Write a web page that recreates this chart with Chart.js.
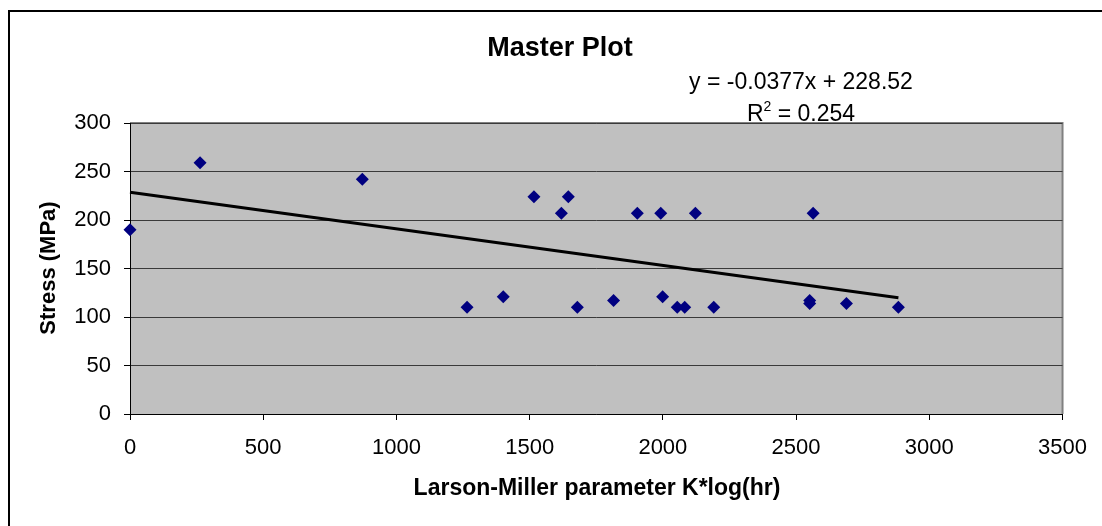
<!DOCTYPE html>
<html>
<head>
<meta charset="utf-8">
<script src="https://cdn.jsdelivr.net/npm/chart.js@4.4.1/dist/chart.umd.min.js"></script>
<style>
  html, body { margin: 0; padding: 0; background: #fff; }
  canvas { display: block; }
</style>
</head>
<body>
<canvas id="c" width="1102" height="526"></canvas>
<script>
// Larson-Miller parameter (x) vs stress in MPa (y)
const lmParam = [0, 263, 872, 1265, 1401, 1516, 1619, 1645, 1679, 1815, 1904, 1992, 1999, 2054, 2082, 2122, 2191, 2551, 2551, 2564, 2689, 2884];
const stress  = [190, 259, 242, 110, 121, 224, 207, 224, 110, 117, 207, 207, 121, 110, 110, 207, 110, 117, 114, 207, 114, 110];

// linear trendline as printed on the chart
const slope = -0.0377;
const intercept = 228.52;
const rSquared = 0.254;

const xTicks = [0, 500, 1000, 1500, 2000, 2500, 3000, 3500];
const yTicks = [0, 50, 100, 150, 200, 250, 300];

const points = lmParam.map((x, i) => ({ x: x, y: stress[i] }));
const xMax = Math.max(...lmParam);
const trend = [
  { x: 0, y: intercept },
  { x: xMax, y: slope * xMax + intercept }
];

const FONT = '"Liberation Sans", Arial, sans-serif';

// grey plot background, chart frame and the text blocks
const decor = {
  id: 'decor',
  beforeDraw(chart) {
    const ctx = chart.ctx;
    const a = chart.chartArea;
    ctx.save();
    ctx.fillStyle = '#C0C0C0';
    ctx.fillRect(a.left, a.top, a.right - a.left, a.bottom - a.top);
    ctx.strokeStyle = '#808080';
    ctx.lineWidth = 2;
    ctx.beginPath();
    ctx.moveTo(a.left, a.top);
    ctx.lineTo(a.right, a.top);
    ctx.lineTo(a.right, a.bottom);
    ctx.stroke();
    ctx.restore();
  },
  afterDraw(chart) {
    const ctx = chart.ctx;
    ctx.save();
    // outer frame (right / bottom run off the picture)
    ctx.strokeStyle = '#000';
    ctx.lineWidth = 2;
    ctx.beginPath();
    ctx.moveTo(9, 526);
    ctx.lineTo(9, 11);
    ctx.lineTo(1102, 11);
    ctx.stroke();

    ctx.fillStyle = '#000';
    ctx.textAlign = 'center';
    ctx.textBaseline = 'middle';
    ctx.font = 'bold 27px ' + FONT;
    ctx.fillText('Master Plot', 560, 49);

    ctx.font = '23px ' + FONT;
    ctx.fillText('y = ' + slope + 'x + ' + intercept, 801, 83);
    // R² with raised 2
    const left = 'R', right = ' = ' + rSquared;
    ctx.font = '23px ' + FONT;
    const wL = ctx.measureText(left).width, wR = ctx.measureText(right).width;
    ctx.font = '14px ' + FONT;
    const w2 = ctx.measureText('2').width;
    let x0 = 801 - (wL + w2 + wR) / 2;
    ctx.textAlign = 'left';
    ctx.font = '23px ' + FONT;
    ctx.fillText(left, x0, 115);
    ctx.font = '14px ' + FONT;
    ctx.fillText('2', x0 + wL, 107);
    ctx.font = '23px ' + FONT;
    ctx.fillText(right, x0 + wL + w2, 115);

    ctx.textAlign = 'center';
    ctx.font = 'bold 23px ' + FONT;
    ctx.fillText('Larson-Miller parameter K*log(hr)', 597, 489);

    ctx.translate(49, 268);
    ctx.rotate(-Math.PI / 2);
    ctx.font = 'bold 22px ' + FONT;
    ctx.fillText('Stress (MPa)', 0, 0);
    ctx.restore();
  }
};

new Chart(document.getElementById('c'), {
  type: 'scatter',
  data: {
    datasets: [
      {
        label: 'Trendline',
        data: trend,
        showLine: true,
        borderColor: '#000',
        borderWidth: 3,
        pointRadius: 0,
        clip: false,
        order: 1
      },
      {
        label: 'Stress',
        data: points,
        pointStyle: 'rectRot',
        pointRadius: 6.5,
        backgroundColor: '#000080',
        borderColor: '#000080',
        borderWidth: 0,
        clip: false,
        order: 2
      }
    ]
  },
  options: {
    responsive: false,
    animation: false,
    devicePixelRatio: 1,
    layout: { padding: { left: 0, right: 39, top: 123, bottom: 0 } },
    plugins: {
      legend: { display: false },
      title: { display: false },
      tooltip: { enabled: false }
    },
    scales: {
      x: {
        type: 'linear',
        min: 0,
        max: 3500,
        afterFit(s) { s.height = 112; },
        afterBuildTicks(s) { s.ticks = xTicks.map(v => ({ value: v })); },
        ticks: {
          color: '#000', font: { family: FONT, size: 22 }, padding: 15, maxRotation: 0,
          callback: v => String(v)
        },
        grid: { drawOnChartArea: false, drawTicks: true, tickLength: 6, tickColor: '#000' },
        border: { color: '#000', width: 1 }
      },
      y: {
        type: 'linear',
        min: 0,
        max: 300,
        afterFit(s) { s.width = 130; },
        afterBuildTicks(s) { s.ticks = yTicks.map(v => ({ value: v })); },
        ticks: {
          color: '#000', font: { family: FONT, size: 22 }, padding: 13,
          callback: v => String(v)
        },
        grid: { color: '#3a3a3a', lineWidth: 1, tickLength: 6, tickColor: '#000' },
        border: { color: '#000', width: 1 }
      }
    }
  },
  plugins: [decor]
});
</script>
</body>
</html>
